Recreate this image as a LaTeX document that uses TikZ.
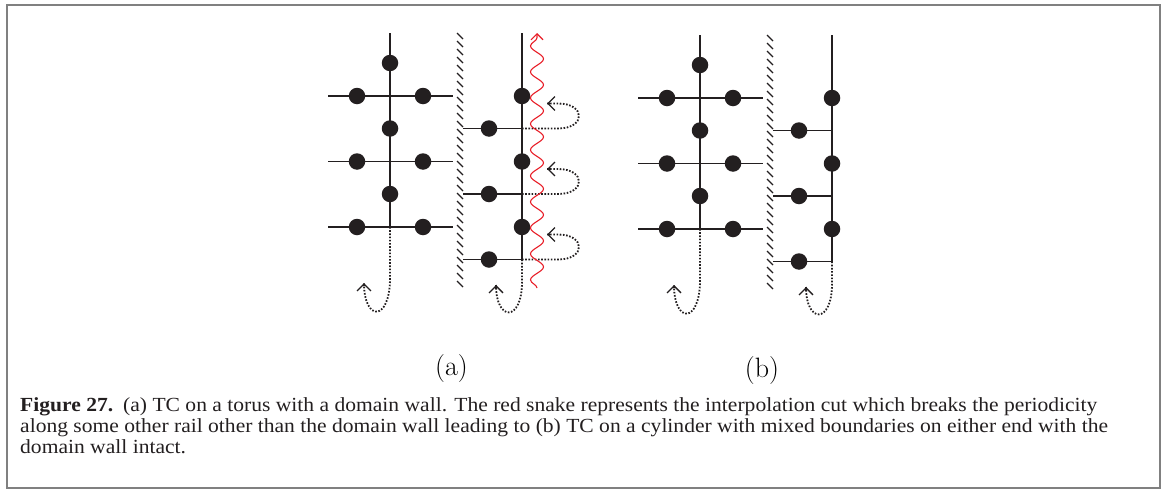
\documentclass[tikz,border=0pt]{standalone}
\usepackage{fontspec}
\newfontfamily\capfont[FakeStretch=1.078]{Liberation Serif}
\usetikzlibrary{decorations.pathmorphing,arrows.meta}
\definecolor{ink}{RGB}{35,31,32}
\definecolor{snakered}{RGB}{232,30,40}
\definecolor{framegray}{RGB}{128,128,128}
\tikzset{
  site/.style={circle,fill=ink,inner sep=0pt,minimum size=16.5pt},
  edge/.style={draw=ink,line width=1.3pt},
  hatch/.style={draw=ink,line width=1.3pt},
  dotloop/.style={draw=ink,line width=1.8pt,dash pattern=on 1.6pt off 1.6pt},
  looptip/.style={draw=ink,line width=1.2pt,solid,
    -{Straight Barb[length=7pt,width=14pt,line width=1.3pt]}},
  snakeline/.style={draw=snakered,line width=1.1pt,decorate,
    decoration={snake,amplitude=6.5pt,segment length=26pt,post length=4pt},
    -{Straight Barb[length=6pt,width=12pt]}},
  framebox/.style={draw=framegray,line width=2pt},
  panellabel/.style={font=\fontsize{28}{30}\selectfont,anchor=base,inner sep=0pt},
  captext/.style={font=\capfont\fontsize{20}{21}\selectfont,anchor=base west,inner sep=0pt,text=ink}
}
\newcommand{\drawpanel}{%
  % left lattice
  \coordinate (Lt) at (390,33);
  \coordinate (Lb) at (390,227);
  \foreach \i/\y in {1/96,2/161.5,3/227} {
    \coordinate (Lh\i w) at (328,\y);
    \coordinate (Lh\i e) at (453,\y);
  }
  % right lattice
  \coordinate (Rt) at (522,33);
  \coordinate (Rb) at (522,259.5);
  \foreach \i/\y in {1/128.5,2/194,3/259.5} {
    \coordinate (Rh\i w) at (463,\y);
    \coordinate (Rh\i e) at (522,\y);
  }
  % domain wall
  \foreach \y in {33,41,...,281} { \draw[hatch] (457,\y) -- (463,\y+6); }
  % edges
  \draw[edge] (Lt) -- (Lb);
  \draw[edge] (Rt) -- (Rb);
  \foreach \i in {1,2,3} {
    \draw[edge] (Lh\i w) -- (Lh\i e);
    \draw[edge] (Rh\i w) -- (Rh\i e);
  }
  % sites
  \foreach \i/\y in {1/63,2/128.5,3/194} { \node[site] (Lv\i) at (390,\y) {}; }
  \foreach \i/\y in {1/96,2/161.5,3/227} {
    \node[site] (Lh\i a) at (357,\y) {};
    \node[site] (Lh\i b) at (423,\y) {};
    \node[site] (Rv\i) at (522,\y) {};
  }
  \foreach \i/\y in {1/128.5,2/194,3/259.5} { \node[site] (Rh\i a) at (489,\y) {}; }
  % bottom periodic loops
  \coordinate (Lend) at (364,283);
  \coordinate (Rend) at (496,285);
  \draw[dotloop] (Lb) -- (390,278) .. controls (390,322) and (364,322) .. (Lend);
  \draw[looptip] (364,286) -- (Lend);
  \draw[dotloop] (Rb) -- (522,282) .. controls (522,322) and (496,322) .. (Rend);
  \draw[looptip] (496,288) -- (Rend);
}
\begin{document}
\begin{tikzpicture}[x=1pt,y=-1pt]
\useasboundingbox (0,0) rectangle (1163,490);
\draw[framebox] (6.5,4.5) rectangle (1159.5,488);
\begin{scope}[name prefix=a-]
  \drawpanel
  \foreach \i/\y in {1/128.5,2/194,3/259.5} {
    \coordinate (Re\i) at (547,\y-25);
    \draw[dotloop] (Rh\i e) -- (558,\y) .. controls (586,\y) and (586,\y-25) .. (558,\y-25) -- (Re\i);
    \draw[looptip] (550,\y-25) -- (Re\i);
  }
  \coordinate (Sb) at (537,288);
  \coordinate (St) at (537,33);
  \draw[snakeline] (Sb) -- (St);
\end{scope}
\begin{scope}[name prefix=b-,shift={(310,2)}]
  \drawpanel
\end{scope}
\node[panellabel] (la) at (451.5,375) {(a)};
\node[panellabel] (lb) at (762,377) {(b)};
\node[captext] (cap1) at (20,411) {\textbf{Figure 27.}\enspace (a) TC on a torus with a domain wall. The red snake represents the interpolation cut which breaks the periodicity};
\node[captext] (cap2) at (20,432) {along some other rail other than the domain wall leading to (b) TC on a cylinder with mixed boundaries on either end with the};
\node[captext] (cap3) at (20,453) {domain wall intact.};
\end{tikzpicture}
\end{document}
